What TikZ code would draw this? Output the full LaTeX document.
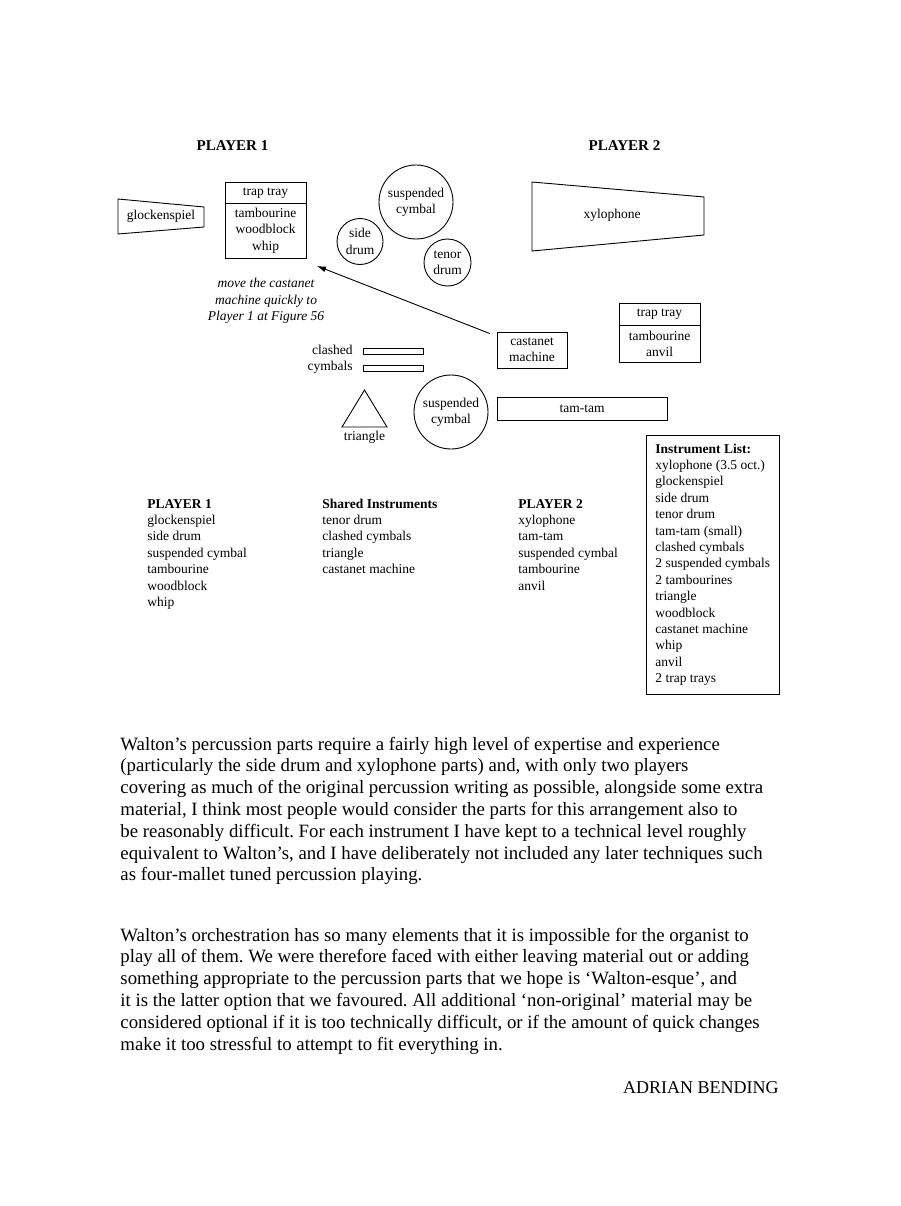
\documentclass[tikz,border=0pt]{standalone}
\usepackage{fontspec}
\setmainfont{Liberation Serif}
\usetikzlibrary{shapes.multipart,arrows.meta}
\frenchspacing
\begin{document}
\begin{tikzpicture}[x=1pt,y=-1pt,line width=0.9pt,
  every node/.style={font=\fontsize{13.5}{16.4}\selectfont,inner sep=0pt},
  drum/.style={circle,draw,align=center},
  tray/.style={rectangle split,rectangle split parts=2,draw,align=center,
    minimum width=81,inner ysep=4.6},
  item/.style={draw,align=center},
  head/.style={font=\fontsize{15}{18}\selectfont\bfseries},
  list/.style={align=left,anchor=base west},
  para/.style={font=\fontsize{18.8}{21.8}\selectfont,align=left,anchor=base west}]
\fill[white] (0,0) rectangle (900,1206);
\useasboundingbox (0,0) rectangle (900,1206);
\node[head,anchor=base] (p1) at (232.5,151) {PLAYER 1};
\node[head,anchor=base] (p2) at (624.5,151) {PLAYER 2};
\draw (118,199) -- (204,207) -- (204,227) -- (118,234) -- cycle;
\node (glock) at (161,216) {glockenspiel};
\node[tray,anchor=north] (tray1) at (265.5,182) {trap tray\nodepart{two}tambourine\\woodblock\\whip};
\node[drum,minimum size=74] (cym1) at (416,202) {suspended\\cymbal};
\node[drum,minimum size=46] (side) at (360,241.5) {side\\drum};
\node[drum,minimum size=47] (tenor) at (447.5,262.5) {tenor\\drum};
\draw (532,182) -- (704,197) -- (704,235) -- (532,251) -- cycle;
\node (xylo) at (612,215) {xylophone};
\node[font=\fontsize{13.5}{16.4}\selectfont\itshape,align=center] (note) at (266,301)
  {move the castanet\\machine quickly to\\Player 1 at Figure 56};
\node[item,minimum width=70,minimum height=36] (machine) at (532,350) {castanet\\machine};
\node[tray,anchor=north,inner ysep=5.2] (tray2) at (659.5,303) {trap tray\nodepart{two}tambourine\\anvil};
\coordinate (mv) at (317,266);
\draw[-{Latex[length=9,width=6]},shorten <=7] (machine) -- (mv);
\node[draw,minimum width=60,minimum height=6] (clash1) at (393,351) {};
\node[draw,minimum width=60,minimum height=6] (clash2) at (393,368) {};
\node[align=right,anchor=east] (clash) at (353,359.5) {clashed\\cymbals};
\draw (364.5,390) -- (387,427) -- (342,427) -- cycle;
\node[anchor=base] (tri) at (364.5,440) {triangle};
\node[drum,minimum size=74] (cym2) at (451,412) {suspended\\cymbal};
\node[item,minimum width=170,minimum height=23] (tamtam) at (582,408.5) {tam-tam};
\node[list] (l1) at (147,606.4) {\textbf{PLAYER 1}\\glockenspiel\\side drum\\suspended cymbal\\tambourine\\woodblock\\whip};
\node[list] (ls) at (322,573.6) {\textbf{Shared Instruments}\\tenor drum\\clashed cymbals\\triangle\\castanet machine};
\node[list] (l2) at (518,590) {\textbf{PLAYER 2}\\xylophone\\tam-tam\\suspended cymbal\\tambourine\\anvil};
\node[draw,anchor=north west,minimum width=133,minimum height=259] (box) at (646,435) {};
\node[list] (inst) at (655,682.6) {\textbf{Instrument List:}\\xylophone (3.5 oct.)\\glockenspiel\\side drum\\tenor drum\\tam-tam (small)\\clashed cymbals\\2 suspended cymbals\\2 tambourines\\triangle\\woodblock\\castanet machine\\whip\\anvil\\2 trap trays};
\node[para] (text1) at (120,880.8) {Walton’s percussion parts require a fairly high level of expertise and experience\\
(particularly the side drum and xylophone parts) and, with only two players\\
covering as much of the original percussion writing as possible, alongside some extra\\
material, I think most people would consider the parts for this arrangement also to\\
be reasonably difficult. For each instrument I have kept to a technical level roughly\\
equivalent to Walton’s, and I have deliberately not included any later techniques such\\
as four-mallet tuned percussion playing.};
\node[para] (text2) at (120,1050) {Walton’s orchestration has so many elements that it is impossible for the organist to\\
play all of them. We were therefore faced with either leaving material out or adding\\
something appropriate to the percussion parts that we hope is ‘Walton-esque’, and\\
it is the latter option that we favoured. All additional ‘non-original’ material may be\\
considered optional if it is too technically difficult, or if the amount of quick changes\\
make it too stressful to attempt to fit everything in.};
\node[font=\fontsize{18}{21.8}\selectfont,anchor=base east] (sign) at (779,1093) {ADRIAN BENDING};
\end{tikzpicture}
\end{document}
